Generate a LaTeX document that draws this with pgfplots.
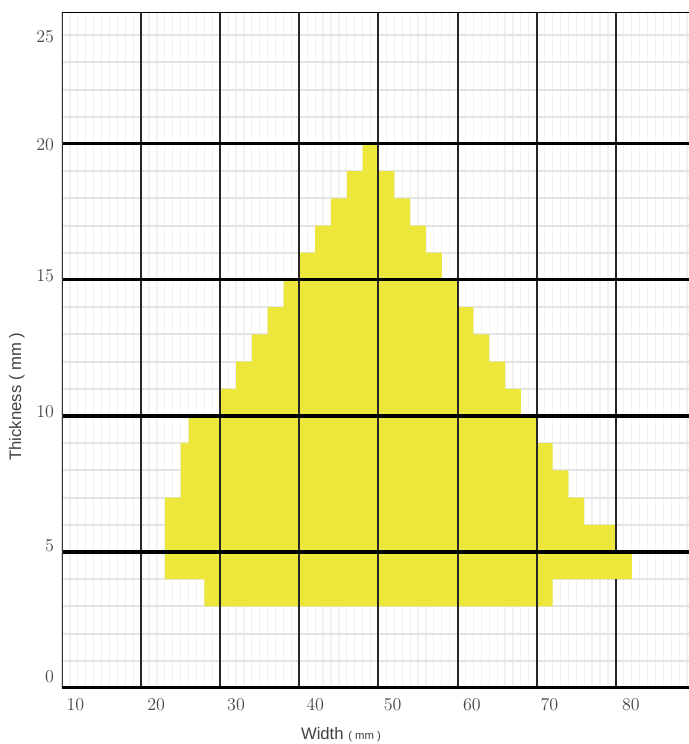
\documentclass[border=0pt]{standalone}
\usepackage{fontspec}
\usepackage{pgfplots}
\pgfplotsset{compat=1.18}
\newfontfamily\labelfont{Liberation Sans}
\definecolor{shape}{RGB}{236,231,58}
\definecolor{minorh}{RGB}{228,228,228}
\definecolor{minorv}{RGB}{241,241,241}
\begin{document}
\begin{tikzpicture}
\useasboundingbox (-46.5pt,-42pt) rectangle (470.25pt,516pt);
% background: minor grid and the shape
\begin{axis}[
  at={(0,0)}, anchor=south west,
  scale only axis, width=470.25pt, height=507pt,
  xmin=10, xmax=89.25, ymin=0, ymax=24.85,
  axis line style={draw=none},
  xtick={10,20,...,80}, ytick={0,5,...,20},
  minor xtick={10,11,...,89}, minor ytick={1,2,...,24},
  xticklabels={}, yticklabels={},
  major tick length=0pt, minor tick length=0pt,
  grid=minor,
  minor x grid style={minorv, line width=0.9pt},
  minor y grid style={minorh, line width=1.5pt},
]
\addplot[fill=shape, draw=none] coordinates {
(28,3) (28,4) (23,4) (23,7) (25,7) (25,9) (26,9) (26,10) (30,10) (30,11)
(32,11) (32,12) (34,12) (34,13) (36,13) (36,14) (38,14) (38,15) (40,15)
(40,16) (42,16) (42,17) (44,17) (44,18) (46,18) (46,19) (48,19) (48,20)
(50,20) (50,19) (52,19) (52,18) (54,18) (54,17) (56,17) (56,16) (58,16)
(58,15) (60,15) (60,14) (62,14) (62,13) (64,13) (64,12) (66,12) (66,11)
(68,11) (68,10) (70,10) (70,9) (72,9) (72,8) (74,8) (74,7) (76,7) (76,6)
(80,6) (80,5) (82,5) (82,4) (72,4) (72,3)
} --cycle;
\end{axis}
% foreground: major grid, frame, labels
\begin{axis}[
  at={(0,0)}, anchor=south west,
  scale only axis, width=470.25pt, height=507pt,
  xmin=10, xmax=89.25, ymin=0, ymax=24.85,
  axis line style={draw=none},
  xtick={20,30,...,80}, ytick={5,10,15,20},
  xticklabels={}, yticklabels={},
  major tick length=0pt,
  grid=major,
  major x grid style={black!85, line width=1.5pt},
  major y grid style={black, line width=2.3pt},
  ticklabel style={font=\fontsize{13.5}{15}\selectfont, text=black!72},
  extra x ticks={11.7,21.9,32,42,51.8,61.8,71.6,81.9},
  extra x tick labels={10,20,30,40,50,60,70,80},
  extra x tick style={grid=none, major tick length=0pt, tick label style={yshift=-4pt}},
  extra y ticks={0.4,5.22,10.15,15.15,19.96,23.93},
  extra y tick labels={0,5,10,15,20,25},
  extra y tick style={grid=none, major tick length=0pt, tick label style={xshift=-2.5pt}},
  xlabel={\labelfont Width {\fontsize{8.5}{10}\selectfont( mm )}},
  xlabel style={at={(axis description cs:0.445,-0.0765)}, anchor=base, font=\fontsize{12.5}{14}\selectfont, text=black!75},
  ylabel={\labelfont Thickness ( mm )},
  ylabel style={at={(axis description cs:-0.072,0.431)}, anchor=center, font=\fontsize{12.5}{14}\selectfont, text=black!75},
]
\addplot[fill=shape, draw=none] coordinates {(79.5,4.02) (82,4.02) (82,4.92) (79.5,4.92)} --cycle;
\draw[black!80, line width=1.8pt] (rel axis cs:0,0) -- (rel axis cs:0,1);
\draw[black, line width=2.2pt] (rel axis cs:0,1) -- (rel axis cs:1,1);
\draw[black, line width=2.8pt] (rel axis cs:0,0) -- (rel axis cs:1,0);
\end{axis}
\end{tikzpicture}
\end{document}
